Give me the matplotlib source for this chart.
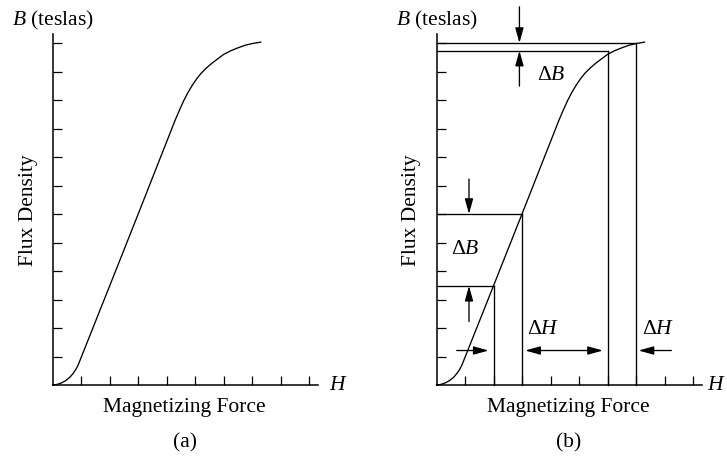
import matplotlib
matplotlib.use("Agg")
import matplotlib.pyplot as plt

plt.rcParams['font.family'] = ['Liberation Serif', 'DejaVu Serif']
plt.rcParams['mathtext.fontset'] = 'custom'
plt.rcParams['mathtext.rm'] = 'Liberation Serif'
plt.rcParams['mathtext.it'] = 'Liberation Serif:italic'

# ---- data ----
curve_h = [0, 0.15, 0.3, 0.45, 0.6, 0.72, 0.82, 0.9, 2.0, 3.0, 4.3, 4.45, 4.6, 4.75,
           4.9, 5.05, 5.2, 5.4, 5.6, 5.8, 6.0, 6.25, 6.5, 6.75, 7.0, 7.3]
curve_b = [0, 0.02, 0.07, 0.15, 0.27, 0.41, 0.56, 0.72, 3.48, 6.0, 9.3, 9.65, 9.98, 10.27,
           10.52, 10.74, 10.93, 11.13, 11.3, 11.45, 11.6, 11.73, 11.83, 11.92, 11.98, 12.03]
h_ticks = [1, 2, 3, 4, 5, 6, 7, 8, 9]
b_ticks = [1, 2, 3, 4, 5, 6, 7, 8, 9, 10, 11, 12]
mark_h = [2, 3, 6, 7]
mark_b = [3.48, 6.0, 11.73, 12.0]

FS = 15.5
fig = plt.figure(figsize=(7.27, 4.60), dpi=100)
W, H = 727.0, 460.0
unit = 28.5
xmax, ymax = 9.6, 13.5


def make_axes(x0px):
    ax = fig.add_axes([x0px / W, (H - 386) / H, xmax * unit / W, ymax * unit / H])
    ax.set_xlim(0, xmax)
    ax.set_ylim(0, ymax)
    ax.patch.set_alpha(0)
    for s in ['top', 'right']:
        ax.spines[s].set_visible(False)
    ax.spines['left'].set_bounds(0, 12.3)
    ax.spines['bottom'].set_bounds(0, 9.32)
    for s in ['left', 'bottom']:
        ax.spines[s].set_linewidth(1.1)
    ax.set_xticks(h_ticks)
    ax.set_yticks(b_ticks)
    ax.tick_params(direction='in', length=6.5, width=0.9, labelbottom=False, labelleft=False)
    ax.plot(curve_h, curve_b, color='black', lw=0.95, clip_on=False)
    ax.text(-1.42, 12.82, r'$B$ (teslas)', fontsize=FS, ha='left', va='center')
    ax.text(-0.86, 6.16, 'Flux Density', fontsize=FS, rotation=90, ha='center', va='center')
    ax.text(4.63, -0.77, 'Magnetizing Force', fontsize=FS, ha='center', va='center')
    return ax


ax1 = make_axes(52.7)
ax1.text(9.71, 0.03, r'$H$', fontsize=FS, ha='left', va='center')
ax1.text(4.63, -2.0, '(a)', fontsize=FS, ha='center', va='center')

ax2 = make_axes(436.5)
ax2.text(10.15, 0.03, r'$H$', fontsize=FS, ha='right', va='center')
ax2.text(4.63, -2.0, '(b)', fontsize=FS, ha='center', va='center')

for h, b in zip(mark_h, mark_b):
    ax2.plot([0, h], [b, b], color='black', lw=0.95, clip_on=False)
    ax2.plot([h, h], [0, b], color='black', lw=0.95, clip_on=False)

astyle = dict(arrowstyle='-|>,head_length=0.65,head_width=0.18', mutation_scale=14,
              lw=0.95, color='black', shrinkA=0, shrinkB=0)
dstyle = dict(arrowstyle='<|-|>,head_length=0.65,head_width=0.18', mutation_scale=14,
              lw=0.95, color='black', shrinkA=0, shrinkB=0)

# top delta B
ax2.annotate('', xy=(2.91, mark_b[3]), xytext=(2.91, 13.27), arrowprops=astyle, annotation_clip=False)
ax2.annotate('', xy=(2.91, mark_b[2]), xytext=(2.91, 10.49), arrowprops=astyle)
ax2.text(4.02, 10.9, r'$\Delta B$', fontsize=FS, ha='center', va='center')
# lower delta B
ax2.annotate('', xy=(1.14, mark_b[1]), xytext=(1.14, 7.23), arrowprops=astyle)
ax2.annotate('', xy=(1.14, mark_b[0]), xytext=(1.14, 2.23), arrowprops=astyle)
ax2.text(1.0, 4.78, r'$\Delta B$', fontsize=FS, ha='center', va='center')
# delta H
ax2.annotate('', xy=(1.83, 1.21), xytext=(0.71, 1.21), arrowprops=astyle)
ax2.annotate('', xy=(5.84, 1.21), xytext=(3.11, 1.21), arrowprops=dstyle)
ax2.annotate('', xy=(7.09, 1.21), xytext=(8.24, 1.21), arrowprops=astyle)
ax2.text(3.75, 1.97, r'$\Delta H$', fontsize=FS, ha='center', va='center')
ax2.text(7.79, 1.97, r'$\Delta H$', fontsize=FS, ha='center', va='center')

fig.savefig('out.png', dpi=100)
